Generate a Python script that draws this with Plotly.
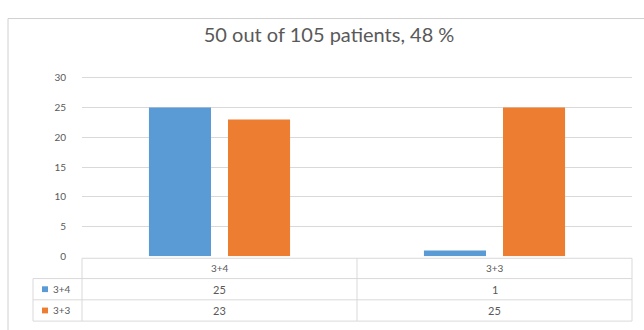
import plotly.graph_objects as go

categories = ["3+4", "3+3"]
series_names = ["3+4", "3+3"]
series_values = [[25, 1], [23, 25]]
colors = ["#5B9BD5", "#ED7D31"]
y_ticks = [0, 5, 10, 15, 20, 25, 30]
title_text = "50 out of 105 patients, 48 %"

W, H = 644, 330
def px(x):
    return x / W
def py(y):
    return 1 - y / H

FONT = "Lato, 'Open Sans', sans-serif"
TXT = "#595959"
LINE = "#d9d9d9"

fig = go.Figure()
for name, vals, col in zip(series_names, series_values, colors):
    fig.add_trace(go.Bar(x=categories, y=vals, name=name, marker=dict(color=col, line=dict(width=0))))

x0, x1 = 82, 632
y_zero, y_top = 260, 74

shapes = []
annotations = []

# outer chart border (left and top visible)
shapes.append(dict(type="line", xref="paper", yref="paper", x0=px(8), x1=px(8), y0=py(14), y1=py(340), line=dict(color="#d0d0d0", width=1)))
shapes.append(dict(type="line", xref="paper", yref="paper", x0=px(8), x1=px(660), y0=py(14), y1=py(14), line=dict(color="#d0d0d0", width=1)))

# data table
t_top, t_r1, t_r2, t_bot = 262, 283, 305, 327
key_left = 33
for yy, xl in [(t_top, x0), (t_r1, key_left), (t_r2, key_left), (t_bot, key_left)]:
    shapes.append(dict(type="line", xref="paper", yref="paper", x0=px(xl), x1=px(x1), y0=py(yy), y1=py(yy), line=dict(color=LINE, width=1)))
mid = (x0 + x1) / 2
for xx in [x0, mid, x1]:
    shapes.append(dict(type="line", xref="paper", yref="paper", x0=px(xx), x1=px(xx), y0=py(t_top), y1=py(t_bot), line=dict(color=LINE, width=1)))
shapes.append(dict(type="line", xref="paper", yref="paper", x0=px(key_left), x1=px(key_left), y0=py(t_r1), y1=py(t_bot), line=dict(color=LINE, width=1)))

# header
for c in categories:
    annotations.append(dict(x=c, y=py((t_top + t_r1) / 2), xref="x", yref="paper", text=c, showarrow=False,
                            font=dict(family=FONT, size=10, color=TXT), xanchor="center", yanchor="middle"))
# rows
row_bounds = [(t_r1, t_r2), (t_r2, t_bot)]
for (ra, rb), name, vals, col in zip(row_bounds, series_names, series_values, colors):
    yc = (ra + rb) / 2
    shapes.append(dict(type="rect", xref="paper", yref="paper", x0=px(42), x1=px(48), y0=py(yc - 3), y1=py(yc + 3), fillcolor=col, line=dict(width=0)))
    annotations.append(dict(x=px(51), y=py(yc), xref="paper", yref="paper", text=name, showarrow=False,
                            font=dict(family=FONT, size=10, color=TXT), xanchor="left", yanchor="middle"))
    for c, v in zip(categories, vals):
        annotations.append(dict(x=c, y=py(yc), xref="x", yref="paper", text=str(v), showarrow=False,
                                font=dict(family=FONT, size=11, color=TXT), xanchor="center", yanchor="middle"))

fig.update_layout(
    width=W, height=H,
    margin=dict(l=0, r=0, t=0, b=0),
    paper_bgcolor="white", plot_bgcolor="white",
    showlegend=False,
    barmode="group", bargap=0.425, bargroupgap=0.215,
    title=dict(text=title_text, x=0.511, xanchor="center", y=py(35), yanchor="middle",
               font=dict(family=FONT, size=20, color=TXT)),
    xaxis=dict(domain=[px(x0), px(x1)], showticklabels=False, showgrid=False, zeroline=False, showline=False, ticks=""),
    yaxis=dict(domain=[py(y_zero), py(y_top)], range=[0, 30.2], tickvals=y_ticks, showgrid=True, gridcolor=LINE, gridwidth=1,
               zeroline=False, showline=False, ticks="", ticklabelstandoff=15,
               tickfont=dict(family=FONT, size=10, color=TXT)),
    shapes=shapes, annotations=annotations,
)

fig.write_html("out.html")
